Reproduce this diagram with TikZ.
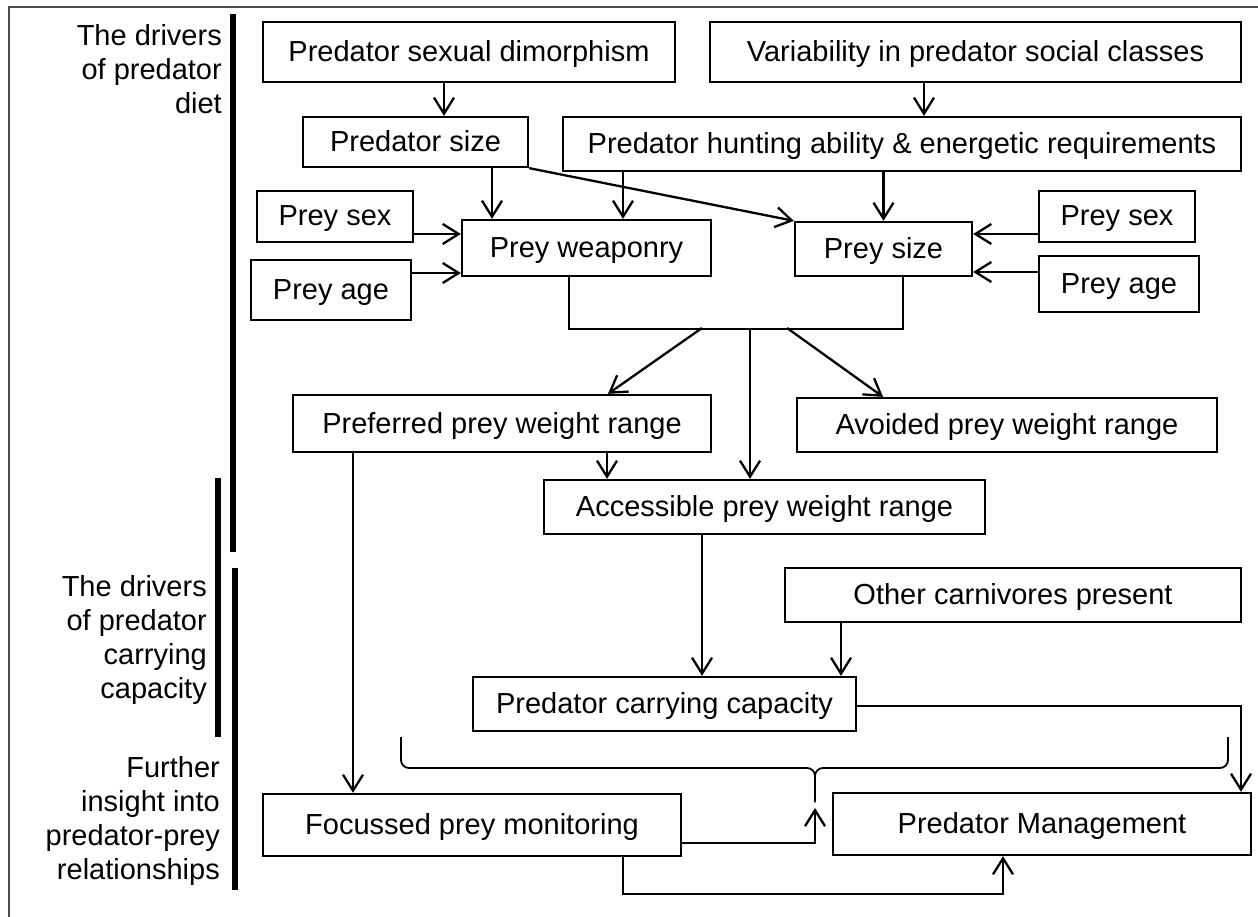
\documentclass[tikz,border=0pt]{standalone}
\usepackage{fontspec}
\setmainfont{Liberation Sans}
\usetikzlibrary{arrows.meta}

\begin{document}
\begin{tikzpicture}[x=1pt,y=-1pt,
        box/.style={draw, line width=2.3pt, inner sep=0pt, text height=21pt, text depth=2pt, font=\fontsize{29}{34}\selectfont},
        arr/.style={line width=2.3pt, -{Straight Barb[length=16pt,width=20pt]}},
        link/.style={line width=2.3pt},
        bar/.style={line width=6.5pt},
        bracket/.style={line width=1.8pt, rounded corners=8pt},
        lbl/.style={anchor=north east, align=right, inner sep=0pt, font=\fontsize{29}{34}\selectfont}]
                \useasboundingbox (0,0) rectangle (1258,917);
                \draw[gray!60!black, line width=1.5pt] (9,917) |- (1258,7);

                \node[lbl] (lbldiet) at (222,24) {The drivers\\of predator\\diet};
                \node[lbl] (lblcap) at (207,575) {The drivers\\of predator\\carrying\\capacity};
                \node[lbl] (lblins) at (220,756) {Further\\insight into\\predator-prey\\relationships};
                \draw[bar] (233,14) -- (233,552);
                \draw[bar] (218,478) -- (218,737);
                \draw[bar] (235,568) -- (235,890);

                \node[box, minimum width=412pt, minimum height=60pt] (psd) at (469,52) {Predator sexual dimorphism};
                \node[box, minimum width=531pt, minimum height=60pt] (var) at (975.5,52) {Variability in predator social classes};
                \node[box, minimum width=225pt, minimum height=50pt] (psize) at (415.5,142) {Predator size};
                \node[box, minimum width=678pt, minimum height=54pt] (hunt) at (902,144) {Predator hunting ability \& energetic requirements};
                \node[box, minimum width=156pt, minimum height=51pt] (sexl) at (335,216.5) {Prey sex};
                \node[box, minimum width=160pt, minimum height=60pt] (agel) at (331,290) {Prey age};
                \node[box, minimum width=249pt, minimum height=56pt] (weap) at (586.5,248) {Prey weaponry};
                \node[box, minimum width=177pt, minimum height=54pt] (psz) at (883.5,249) {Prey size};
                \node[box, minimum width=156pt, minimum height=51pt] (sexr) at (1117,216.5) {Prey sex};
                \node[box, minimum width=160pt, minimum height=56pt] (ager) at (1119,284) {Prey age};
                \node[box, minimum width=418pt, minimum height=57pt] (pref) at (502,423.5) {Preferred prey weight range};
                \node[box, minimum width=420pt, minimum height=54pt] (avoid) at (1007,425) {Avoided prey weight range};
                \node[box, minimum width=441pt, minimum height=54pt] (access) at (764.5,507) {Accessible prey weight range};
                \node[box, minimum width=456pt, minimum height=54pt] (other) at (1013,595) {Other carnivores present};
                \node[box, minimum width=383pt, minimum height=54pt] (pcc) at (664.5,704) {Predator carrying capacity};
                \node[box, minimum width=418pt, minimum height=62pt] (focus) at (472,825) {Focussed prey monitoring};
                \node[box, minimum width=418pt, minimum height=62pt] (mgmt) at (1042,824) {Predator Management};

                \draw[arr] ([xshift=-25pt]psd.south) -- ([xshift=28.5pt]psize.north);
                \draw[arr] ([xshift=-51.5pt]var.south) -- ([xshift=22pt]hunt.north);
                \draw[arr] ([xshift=76.5pt]psize.south) -- ([xshift=-94.5pt]weap.north);
                \draw[arr] ([xshift=-279pt]hunt.south) -- ([xshift=36.5pt]weap.north);
                \draw[arr] (hunt.south -| psz.north) -- (psz.north);
                \draw[arr] (psize.south east) -- (psz.north west);
                \draw[arr] ([yshift=-17.5pt]sexl.east) -- ([yshift=14pt]weap.west);
                \draw[arr] ([yshift=17pt]agel.east) -- ([yshift=-25pt]weap.west);
                \draw[arr] ([yshift=-17.5pt]sexr.west) -- ([yshift=15pt]psz.east);
                \draw[arr] ([yshift=12pt]ager.west) -- ([yshift=-23pt]psz.east);

                \draw[link] ([xshift=-17.5pt]weap.south) -- ++(0,52) -| ([xshift=19.5pt]psz.south);
                \coordinate (ua) at (702,328);
                \coordinate (ub) at (750,328);
                \coordinate (uc) at (787,328);
                \draw[arr] (ua) -- ([xshift=106pt]pref.north);
                \draw[arr] (ub) -- (ub |- access.north);
                \draw[arr] (uc) -- ([xshift=-124pt]avoid.north);

                \draw[arr] ([xshift=105pt]pref.south) -- ([xshift=-157.5pt]access.north);
                \draw[arr] ([xshift=-149pt]pref.south) -- ([xshift=-119pt]focus.north);
                \draw[arr] ([xshift=-62.5pt]access.south) -- ([xshift=37.5pt]pcc.north);
                \draw[arr] ([xshift=-172pt]other.south) -- ([xshift=176.5pt]pcc.north);
                \draw[arr] ([yshift=-2pt]pcc.east) -| ([xshift=199pt]mgmt.north);

                \draw[bracket] (401,737) -- (401,768) -- (815,768) -- (815,802);
                \draw[bracket] (1228,737) -- (1228,768) -- (815,768) -- (815,802);
                \coordinate (btip) at (815,808);
                \draw[arr] ([yshift=-18pt]focus.east) -| (btip);
                \draw[arr] ([xshift=151pt]focus.south) -- ++(0,37) -| ([xshift=-39pt]mgmt.south);
            \end{tikzpicture}
\end{document}
